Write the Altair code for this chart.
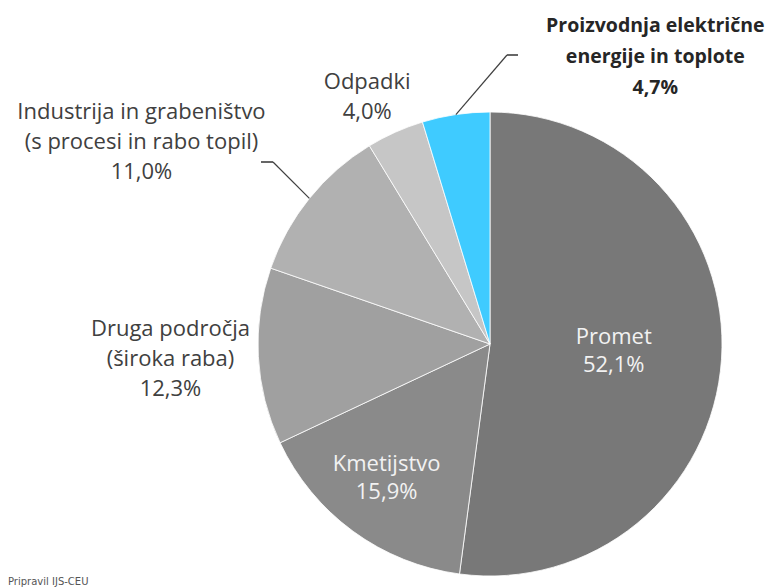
import altair as alt
import pandas as pd

categories = ["Promet", "Kmetijstvo", "Druga področja (široka raba)",
              "Industrija in grabeništvo (s procesi in rabo topil)", "Odpadki",
              "Proizvodnja električne energije in toplote"]
label_lines = [["Promet"], ["Kmetijstvo"], ["Druga področja", "(široka raba)"],
               ["Industrija in grabeništvo", "(s procesi in rabo topil)"], ["Odpadki"],
               ["Proizvodnja električne", "energije in toplote"]]
shares = [52.1, 15.9, 12.3, 11.0, 4.0, 4.7]
colors = ["#787878", "#8a8a8a", "#a0a0a0", "#b1b1b1", "#c6c6c6", "#3fcbff"]

df = pd.DataFrame({
    "cat": categories,
    "share": shares,
    "idx": list(range(len(categories))),
    "label": [lines + [f"{s:.1f}".replace(".", ",") + "%"] for lines, s in zip(label_lines, shares)],
})

CX, CY, R = 482, 336, 232
FONT = "Open Sans"

base = alt.Chart(df).transform_stack(
    stack="share", groupby=[], as_=["v0", "v1"], sort=[alt.SortField("idx", order="ascending")]
).transform_calculate(
    mid="(datum.v0 + datum.v1) / 2",
    ang="(datum.v0 + datum.v1) / 200 * 2 * PI",
)

theta_scale = alt.Scale(domain=[0, 100])

arcs = base.mark_arc(radius=R, stroke="white", strokeWidth=0.8).encode(
    theta=alt.Theta("v0:Q", scale=theta_scale),
    theta2="v1:Q",
    color=alt.Color("cat:N", scale=alt.Scale(domain=categories, range=colors), legend=None),
    x=alt.value(CX), y=alt.value(CY),
)

# label placement: (radius, dx, dy, color, weight, lineHeight)
placement = {
    "Promet": (124, 0, -15, "#f2f2f2", "normal", 28),
    "Kmetijstvo": (165, -6, -13, "#f2f2f2", "normal", 28),
    "Druga področja (široka raba)": (320, 0, -32, "#404040", "normal", 30),
    "Industrija in grabeništvo (s procesi in rabo topil)": (300, -115, -44, "#404040", "normal", 30),
    "Odpadki": (276, -10, -10, "#404040", "normal", 30),
    "Proizvodnja električne energije in toplote": (290, 208, -31, "#262626", "bold", 31),
}

text_layers = []
for cat, (r, dx, dy, col, wt, lh) in placement.items():
    bold = wt == "bold"
    t = base.transform_filter(alt.datum.cat == cat).mark_text(
        radius=r, dx=dx, dy=dy, color=col, fontWeight=wt, font=FONT,
        fontSize=19.5 if bold else 22, lineHeight=lh,
        align="center", baseline="middle",
    ).encode(
        theta=alt.Theta("mid:Q", scale=theta_scale),
        text="label",
        x=alt.value(CX), y=alt.value(CY),
    )
    text_layers.append(t)

# leader lines: from slice edge at its mid angle to an elbow, then a short horizontal tick
leaders = {
    "Industrija in grabeništvo (s procesi in rabo topil)": (265, 154, 253),
    "Proizvodnja električne energije in toplote": (499, 47, 510),
}
leader_layers = []
for cat, (ex, ey, hx) in leaders.items():
    seg = base.transform_filter(alt.datum.cat == cat).transform_calculate(
        sx=f"{CX} + {R} * sin(datum.ang)",
        sy=f"{CY} - {R} * cos(datum.ang)",
        ex=f"{ex}", ey=f"{ey}", hx=f"{hx}",
    )
    leader_layers.append(seg.mark_rule(color="#404040", strokeWidth=1.2).encode(
        x=alt.X("sx:Q", scale=None, axis=None), y=alt.Y("sy:Q", scale=None, axis=None),
        x2="ex:Q", y2="ey:Q"))
    leader_layers.append(seg.mark_rule(color="#404040", strokeWidth=1.6).encode(
        x=alt.X("ex:Q", scale=None, axis=None), y=alt.Y("ey:Q", scale=None, axis=None),
        x2="hx:Q", y2="ey:Q"))

note = alt.Chart(pd.DataFrame({"t": ["Pripravil IJS-CEU"]})).mark_text(
    font="DejaVu Sans", fontSize=10, color="#555555", align="left", baseline="middle"
).encode(text="t:N", x=alt.value(0), y=alt.value(574))

chart = alt.layer(arcs, *leader_layers, *text_layers, note).properties(
    width=762, height=580, autosize=alt.AutoSizeParams(type="none"), padding=0
).configure_view(stroke=None)

chart.save("out.html", embed_options={"renderer": "svg", "actions": False})
